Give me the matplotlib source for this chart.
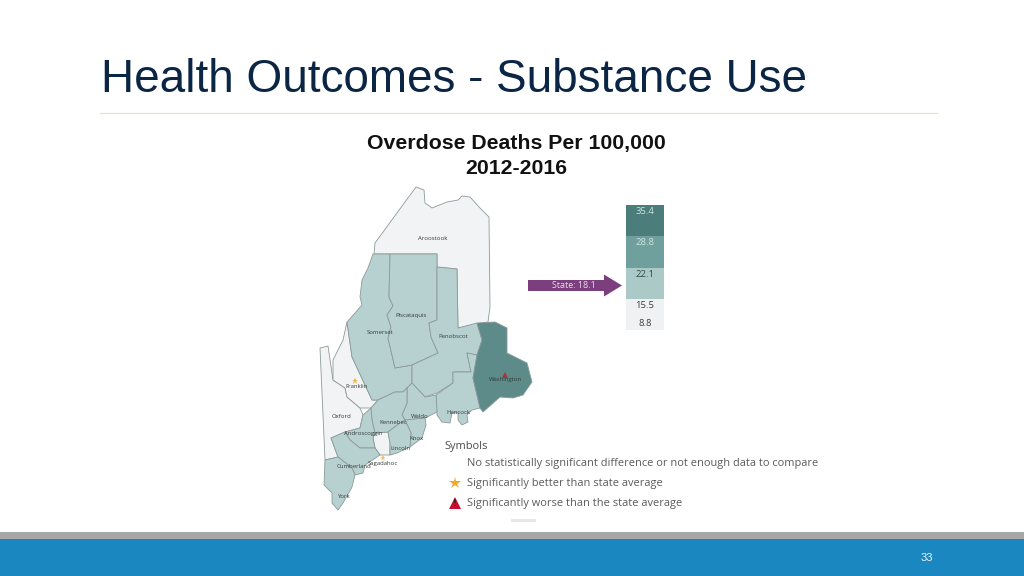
import matplotlib
matplotlib.use("Agg")
import matplotlib.pyplot as plt
from matplotlib.patches import Polygon, FancyArrow, Rectangle

W, H = 1024, 576
TITLE = "Health Outcomes - Substance Use"
SUBTITLE = "Overdose Deaths Per 100,000\n2012-2016"
PAGE = "33"

# Overdose-rate bins: upper and lower limits of each legend class
bin_top = [35.4, 28.8, 22.1, 15.5]
bin_bottom = [28.8, 22.1, 15.5, 8.8]
bin_colors = ["#4b7d7b", "#70a09e", "#aac9c7", "#f0f1f2"]
bin_text = ["#cfe3e2", "#cfe3e2", "#33484a", "#3c3c3c"]
STATE_VALUE = "State: 18.1"

LOW, MID, HIGH = "#f2f3f4", "#b6d1cf", "#5c8b89"

# County outlines
aroostook = [(416,187),(424,190),(425,203),(432,208),(447,202),(458,200),(462,196),(470,197),(480,208),(489,217),(490,307),(488,322),(458,328),(457,269),(437,267),(437,254),(374,254),(375,243)]
somerset = [(373,254),(390,254),(389,297),(393,306),(387,315),(391,327),(388,338),(395,368),(412,365),(412,383),(407,388),(403,392),(395,392),(378,400),(372,400),(352,357),(347,322),(355,313),(362,305),(360,297),(362,280),(368,268)]
piscataquis = [(390,254),(437,254),(437,320),(429,323),(431,337),(438,353),(412,365),(395,368),(388,338),(391,327),(387,315),(393,306),(389,297)]
penobscot = [(437,267),(457,269),(458,328),(477,323),(482,340),(477,355),(467,353),(471,372),(453,372),(453,383),(437,393),(425,397),(412,383),(412,365),(438,353),(431,337),(429,323),(437,320)]
washington = [(477,323),(495,322),(507,328),(507,353),(517,358),(527,363),(532,382),(523,395),(513,398),(500,397),(483,412),(480,408),(473,378),(477,355),(482,340)]
hancock = [(467,353),(477,355),(473,378),(480,408),(472,410),(467,415),(468,422),(462,425),(458,420),(458,413),(452,413),(450,423),(442,422),(437,415),(436,395),(453,383),(453,372),(471,372)]
waldo = [(407,388),(412,383),(425,397),(436,395),(437,412),(425,418),(405,420),(402,415),(407,403)]
knox = [(405,420),(425,418),(426,425),(422,438),(410,447),(411,433)]
kennebec = [(371,408),(378,400),(395,392),(403,392),(407,388),(407,403),(402,415),(405,420),(400,423),(388,432),(375,433),(372,420)]
lincoln = [(388,432),(400,423),(405,420),(411,433),(410,447),(397,453),(390,455),(390,443)]
androscoggin = [(371,408),(372,420),(375,433),(373,438),(375,448),(360,448),(350,440),(345,432),(360,428),(363,415)]
cumberland = [(345,432),(331,438),(338,457),(352,468),(355,475),(363,473),(365,465),(380,455),(375,448),(360,448),(350,440)]
york = [(325,460),(338,457),(352,468),(355,475),(352,487),(343,503),(338,510),(332,503),(332,493),(324,485)]
oxford = [(320,348),(328,346),(333,380),(345,388),(347,397),(360,408),(363,415),(360,428),(345,432),(331,438),(338,457),(325,460)]
franklin = [(333,380),(333,360),(343,340),(347,322),(352,357),(372,400),(378,400),(371,408),(360,408),(347,397),(345,388)]
sagadahoc = [(375,433),(388,432),(390,443),(390,455),(380,455),(375,448),(373,438)]

counties = [(aroostook,LOW),(oxford,LOW),(franklin,LOW),(sagadahoc,LOW),(somerset,MID),(piscataquis,MID),(penobscot,MID),(hancock,MID),(waldo,MID),(knox,MID),(kennebec,MID),(lincoln,MID),(androscoggin,MID),(cumberland,MID),(york,MID),(washington,HIGH)]

county_names = ["Aroostook","Piscataquis","Somerset","Penobscot","Washington","Franklin","Oxford","Hancock","Waldo","Kennebec","Androscoggin","Knox","Lincoln","Sagadahoc","Cumberland","York"]
name_x = [433,411,380,453,505,356,341,458,420,393,363,417,400,383,354,343]
name_y = [238,316,333,337,380,386,416,412,416,422,433,438,449,464,466,497]

symbol_labels = ["No statistically significant difference or not enough data to compare","Significantly better than state average","Significantly worse than the state average"]
symbol_y = [463,483,503]

fig = plt.figure(figsize=(W/100, H/100), dpi=100, facecolor="white")
ax = fig.add_axes([0,0,1,1])
ax.set_xlim(0,W); ax.set_ylim(H,0); ax.axis("off")

ax.text(101,92.5,TITLE,fontsize=33,family="Liberation Sans",color="#0b2545",va="baseline",ha="left")
ax.plot([100,937],[113,113],color="#dfe8cc",lw=0.9)
ax.text(516,156,SUBTITLE,fontsize=15.3,family="Liberation Sans",fontweight="bold",color="#111111",ha="center",va="center",linespacing=1.35)

for pts,c in counties:
    ax.add_patch(Polygon(pts,closed=True,facecolor=c,edgecolor="#8c9a99",lw=0.6,joinstyle="round"))
for n,x,y in zip(county_names,name_x,name_y):
    ax.text(x,y,n,fontsize=4.3,family="Open Sans",color="#333b3b",ha="center",va="center")

ax.plot([355],[381],marker="*",ms=5,color="#f0b040",mew=0)
ax.plot([383],[458],marker="*",ms=5,color="#f0c060",mew=0)
ax.plot([505],[375],marker="^",ms=5,color="#b03040",mew=0)

ax.add_patch(FancyArrow(528,285.5,94,0,width=11,head_width=22,head_length=18,length_includes_head=True,color="#7c3f7d",lw=0))
ax.text(574,285.5,STATE_VALUE,fontsize=6.4,family="Open Sans",color="#eadcea",ha="center",va="center")

# Legend scale on its own value axis
lg = fig.add_axes([626/W,1-330/H,38/W,125/H])
lg.set_xlim(0,1); lg.set_ylim(8.8,35.4); lg.axis("off")
lg.bar([0.5]*4,[t-b for t,b in zip(bin_top,bin_bottom)],bottom=bin_bottom,width=1,color=bin_colors)
for t,c in zip(bin_top,bin_text):
    lg.annotate(f"{t}",(0.5,t),xytext=(0,-4.8),textcoords="offset points",fontsize=6.8,family="Open Sans",color=c,ha="center",va="center")
lg.annotate(f"{bin_bottom[-1]}",(0.5,bin_bottom[-1]),xytext=(0,5),textcoords="offset points",fontsize=6.8,family="Open Sans",color="#3c3c3c",ha="center",va="center")

ax.text(444,446,"Symbols",fontsize=7.93,family="Open Sans",color="#4a4a4a",va="center")
for s,y in zip(symbol_labels,symbol_y):
    ax.text(467,y+0.5,s,fontsize=7.93,family="Open Sans",color="#5a5a5a",va="center")
ax.plot([455],[483],marker="*",ms=9,color="#f5a623",mew=0)
ax.plot([455],[503],marker="^",ms=9,color="#c8102e",mew=0)
ax.text(455,504,"!",fontsize=6,color="#222222",ha="center",va="center",fontweight="bold")
ax.add_patch(Rectangle((511,519),25,3,facecolor="#e8e8e8",lw=0))

ax.add_patch(Rectangle((0,532),W,7,facecolor="#a6a6a6",lw=0))
ax.add_patch(Rectangle((0,539),W,37,facecolor="#1a87c1",lw=0))
ax.text(927,558,PAGE,fontsize=8,family="Liberation Sans",color="#e8f3f9",ha="center",va="center")

fig.savefig("out.png",dpi=100)
